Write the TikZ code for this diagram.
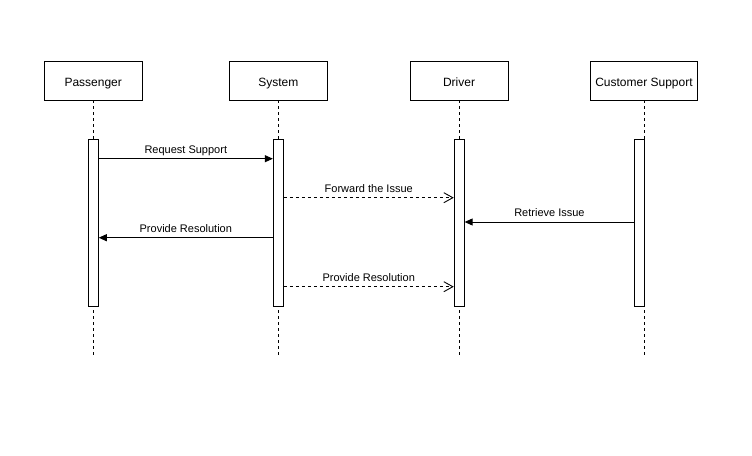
\documentclass[tikz,border=0pt]{standalone}
\usepackage{fontspec}
\setmainfont{Liberation Sans}
\usetikzlibrary{arrows.meta}

\begin{document}
\begin{tikzpicture}[
    x=1pt, y=-1pt,
    actor/.style={
        draw, line width=0.9pt, minimum width=98pt, minimum height=39pt,
        inner sep=2pt, font=\fontsize{12}{14}\selectfont,
        text height=11pt, text depth=0pt
    },
    lifeline/.style={
        line width=0.9pt, dash pattern=on 3pt off 3pt
    },
    activebar/.style={
        draw, fill=white, line width=0.9pt, inner sep=0pt,
        minimum width=10pt, minimum height=166.7pt
    },
    callmsg/.style={
        line width=0.9pt, -{Triangle[length=8pt, width=7pt]}
    },
    replymsg/.style={
        line width=0.9pt, dash pattern=on 3pt off 3pt,
        -{Straight Barb[length=9pt, width=10pt]}
    },
    msglbl/.style={
        font=\fontsize{11}{13}\selectfont, anchor=base, inner sep=0pt, yshift=5.5pt
    }
]

% Canvas: 1 unit = 1 px of the 752x455 layout, y grows downwards
\useasboundingbox (0,0) rectangle (752,455);

% Participants
\node[actor] (passenger) at (93.2, 80.5) {Passenger};
\node[actor] (system) at (278.3, 80.5) {System};
\node[actor] (driver) at (459, 80.5) {Driver};
\node[actor, minimum width=107.4pt] (support) at (644, 80.5) {Customer Support};

% Lifelines (dashed, down to y=355)
\foreach \p/\x in {passenger/93.3, system/278.3, driver/459, support/644.3} {
    \coordinate (\p end) at (\x, 355);
    \draw[lifeline] (\p.south -| \p end) -- (\p end);
}

% Activation bars
\node[activebar] (pbar) at (93.3, 222.65) {};
\node[activebar] (sbar) at (278.3, 222.65) {};
\node[activebar] (dbar) at (459.2, 222.65) {};
\node[activebar] (cbar) at (639.7, 222.65) {};

% Messages
\draw[callmsg] (pbar.east |- 0,158.7) -- node[msglbl] {Request Support} (sbar.west |- 0,158.7);
\draw[replymsg] (sbar.east |- 0,197.7) -- node[msglbl] {Forward the Issue} (dbar.west |- 0,197.7);
\draw[callmsg] (cbar.west |- 0,222) -- node[msglbl] {Retrieve Issue} (dbar.east |- 0,222);
\draw[callmsg] (sbar.west |- 0,237.7) -- node[msglbl] {Provide Resolution} (pbar.east |- 0,237.7);
\draw[replymsg] (sbar.east |- 0,286.7) -- node[msglbl] {Provide Resolution} (dbar.west |- 0,286.7);

\end{tikzpicture}
\end{document}
